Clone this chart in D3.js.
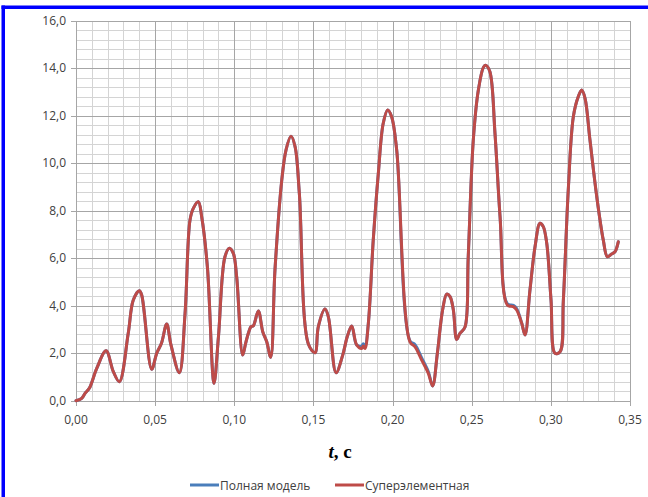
<!DOCTYPE html>
<meta charset="utf-8">
<style>
    body {
        margin: 0;
        background-color: #fff;
    }

    .tick-label {
        font: 12px "Open Sans", "Noto Sans", Arial, sans-serif;
        fill: #404040;
    }

    .legend-label {
        font: 12px "Open Sans", "Noto Sans", Arial, sans-serif;
        fill: #404040;
    }

    .axis-title {
        font: bold 19px "Liberation Serif", "Times New Roman", serif;
        fill: #000;
    }

    .series {
        fill: none;
        stroke-width: 3px;
        stroke-linejoin: round;
        stroke-linecap: round;
    }
</style>

<body>
    <script src="https://d3js.org/d3.v7.min.js"></script>
    <script>

        // time, s
        var time = [
            0.000, 0.0036, 0.0057, 0.0084, 0.0131, 0.019, 0.0236, 0.0274, 0.033, 0.0362,
            0.040, 0.0415, 0.0478, 0.051, 0.054, 0.0573, 0.060, 0.0653, 0.0689, 0.072,
            0.0741, 0.0773, 0.0794, 0.083, 0.0872, 0.090, 0.0941, 0.0969, 0.0994, 0.1015,
            0.1053, 0.1074, 0.1106, 0.112, 0.1152, 0.118, 0.1205, 0.123, 0.1257, 0.130,
            0.1327, 0.1358, 0.1384, 0.1411, 0.1468, 0.151, 0.1531, 0.1573, 0.1594, 0.1643,
            0.1685, 0.1714, 0.1742, 0.1773, 0.1805, 0.1815, 0.1826, 0.1847, 0.1878, 0.191,
            0.1941, 0.1969, 0.1994, 0.2026, 0.211, 0.2142, 0.2184, 0.2226, 0.2253, 0.2283,
            0.2316, 0.2342, 0.2363, 0.2384, 0.2405, 0.2426, 0.2457, 0.2478, 0.251, 0.2542,
            0.2575, 0.259, 0.2615, 0.2647, 0.2679, 0.2725, 0.2763, 0.2784, 0.2816, 0.2837,
            0.2868, 0.290, 0.2931, 0.2952, 0.2974, 0.3001, 0.3026, 0.3058, 0.3079, 0.311,
            0.3142, 0.3173, 0.3195, 0.3216, 0.3247, 0.329, 0.3331, 0.3357, 0.3384, 0.3405,
            0.3426
        ];

        // "Суперэлементная"
        var superElement = [
            0.00, 0.10, 0.31, 0.52, 1.36, 2.10, 1.22, 0.80, 2.84, 4.24,
            4.63, 4.45, 1.32, 2.00, 2.42, 3.23, 2.35, 1.18, 3.68, 7.60,
            8.10, 8.38, 7.75, 5.64, 0.73, 2.70, 6.06, 6.42, 6.20, 5.22,
            1.92, 2.48, 3.12, 3.15, 3.78, 2.90, 2.48, 1.83, 5.50, 9.29,
            10.56, 11.14, 10.70, 8.73, 2.39, 2.02, 3.12, 3.86, 3.54, 1.18,
            1.92, 2.70, 3.15, 2.35, 2.20, 2.30, 2.20, 3.26, 6.77, 9.57,
            11.68, 12.24, 11.96, 10.56, 2.48, 2.27, 1.71, 1.15, 0.62, 2.00,
            3.82, 4.49, 4.38, 3.82, 2.58, 2.84, 3.09, 6.06, 10.98, 13.08,
            14.05, 14.12, 13.85, 11.26, 7.75, 4.03, 3.96, 3.82, 3.26, 2.77,
            4.66, 6.48, 7.47, 7.33, 6.63, 4.24, 2.00, 2.06, 4.24, 8.87,
            11.96, 12.80, 13.08, 12.73, 10.98, 8.59, 6.77, 6.06, 6.18, 6.27,
            6.69
        ];

        // "Полная модель" (almost identical, shows only in a few places)
        var fullModel = [
            0.00, 0.10, 0.31, 0.52, 1.36, 2.10, 1.22, 0.80, 2.84, 4.24,
            4.63, 4.45, 1.32, 2.00, 2.42, 3.23, 2.35, 1.18, 3.68, 7.60,
            8.10, 8.38, 7.75, 5.64, 0.73, 2.70, 6.06, 6.42, 6.20, 5.22,
            1.92, 2.48, 3.12, 3.15, 3.78, 2.90, 2.48, 1.83, 5.50, 9.29,
            10.56, 11.14, 10.70, 8.73, 2.39, 2.02, 3.12, 3.86, 3.54, 1.18,
            1.92, 2.70, 3.15, 2.35, 2.30, 2.40, 2.28, 3.26, 6.77, 9.57,
            11.68, 12.24, 11.96, 10.56, 2.52, 2.36, 1.80, 1.22, 0.62, 2.00,
            3.82, 4.49, 4.38, 3.82, 2.58, 2.84, 3.09, 6.06, 10.98, 13.08,
            14.05, 14.12, 13.85, 11.26, 7.75, 4.08, 4.02, 3.88, 3.26, 2.77,
            4.66, 6.48, 7.47, 7.33, 6.63, 4.24, 2.00, 2.06, 4.24, 8.87,
            11.96, 12.80, 13.08, 12.73, 10.98, 8.59, 6.77, 6.06, 6.18, 6.27,
            6.69
        ];

        var xTicks = [0, 0.05, 0.10, 0.15, 0.20, 0.25, 0.30, 0.35];
        var yTicks = [0, 2, 4, 6, 8, 10, 12, 14, 16];

        var seriesNames = ["Полная модель", "Суперэлементная"];
        var seriesColors = ["#4a7ebb", "#be4b48"];

        var width = 648,
            height = 497,
            plotLeft = 76,
            plotRight = 630,
            plotTop = 20.7,
            plotBottom = 400.7;

        var x = d3.scaleLinear().domain([0, 0.35]).range([plotLeft, plotRight]);
        var y = d3.scaleLinear().domain([0, 16]).range([plotBottom, plotTop]);

        var fmtX = function (d) { return d3.format(".2f")(d).replace(".", ","); };
        var fmtY = function (d) { return d3.format(".1f")(d).replace(".", ","); };

        var svg = d3.select("body").append("svg")
            .attr("width", width)
            .attr("height", height);

        // blue frame (left and top edges only)
        svg.append("rect")
            .attr("x", 1.5).attr("y", 5.5)
            .attr("width", width - 1.5).attr("height", 3.5)
            .attr("fill", "#0000ff");
        svg.append("rect")
            .attr("x", 1.5).attr("y", 5.5)
            .attr("width", 3.5).attr("height", height - 5.5)
            .attr("fill", "#0000ff");

        // minor grid
        var grid = svg.append("g").attr("shape-rendering", "crispEdges");
        grid.selectAll(".vminor")
            .data(d3.range(0, 36).map(function (i) { return i / 100; }))
            .enter().append("line")
            .attr("x1", function (d) { return Math.round(x(d)) + 0.5; })
            .attr("x2", function (d) { return Math.round(x(d)) + 0.5; })
            .attr("y1", plotTop).attr("y2", plotBottom)
            .attr("stroke", "#d4d4d4");
        grid.selectAll(".hminor")
            .data(d3.range(0, 41).map(function (i) { return i * 0.4; }))
            .enter().append("line")
            .attr("x1", plotLeft).attr("x2", plotRight)
            .attr("y1", function (d) { return Math.round(y(d)) + 0.5; })
            .attr("y2", function (d) { return Math.round(y(d)) + 0.5; })
            .attr("stroke", "#d4d4d4");

        // major grid
        grid.selectAll(".vmajor")
            .data(xTicks)
            .enter().append("line")
            .attr("x1", function (d) { return Math.round(x(d)) + 0.5; })
            .attr("x2", function (d) { return Math.round(x(d)) + 0.5; })
            .attr("y1", plotTop).attr("y2", plotBottom + 5)
            .attr("stroke", "#a6a6a6");
        grid.selectAll(".hmajor")
            .data(yTicks)
            .enter().append("line")
            .attr("x1", plotLeft - 5).attr("x2", plotRight)
            .attr("y1", function (d) { return Math.round(y(d)) + 0.5; })
            .attr("y2", function (d) { return Math.round(y(d)) + 0.5; })
            .attr("stroke", "#a6a6a6");

        // tick labels
        svg.append("g").selectAll("text")
            .data(yTicks)
            .enter().append("text")
            .attr("class", "tick-label")
            .attr("x", plotLeft - 10)
            .attr("y", function (d) { return y(d); })
            .attr("dy", "0.34em")
            .attr("text-anchor", "end")
            .text(fmtY);

        svg.append("g").selectAll("text")
            .data(xTicks)
            .enter().append("text")
            .attr("class", "tick-label")
            .attr("x", function (d) { return x(d); })
            .attr("y", 424)
            .attr("text-anchor", "middle")
            .text(fmtX);

        // axis title
        var title = svg.append("text")
            .attr("class", "axis-title")
            .attr("x", 340)
            .attr("y", 458)
            .attr("text-anchor", "middle");
        title.append("tspan").style("font-style", "italic").text("t");
        title.append("tspan").text(", c");

        // series
        var line = d3.line()
            .curve(d3.curveCatmullRom.alpha(0.5))
            .x(function (d) { return x(d[0]); })
            .y(function (d) { return y(d[1]); });

        [fullModel, superElement].forEach(function (values, i) {
            svg.append("path")
                .datum(d3.zip(time, values))
                .attr("class", "series")
                .attr("stroke", seriesColors[i])
                .attr("d", line);
        });

        // legend
        var legendX = [190, 335];
        var legend = svg.append("g");
        seriesNames.forEach(function (name, i) {
            legend.append("line")
                .attr("x1", legendX[i]).attr("x2", legendX[i] + 29)
                .attr("y1", 485).attr("y2", 485)
                .attr("stroke", seriesColors[i])
                .attr("stroke-width", 3);
            legend.append("text")
                .attr("class", "legend-label")
                .attr("x", legendX[i] + 30)
                .attr("y", 489.5)
                .text(name);
        });

    </script>
</body>
